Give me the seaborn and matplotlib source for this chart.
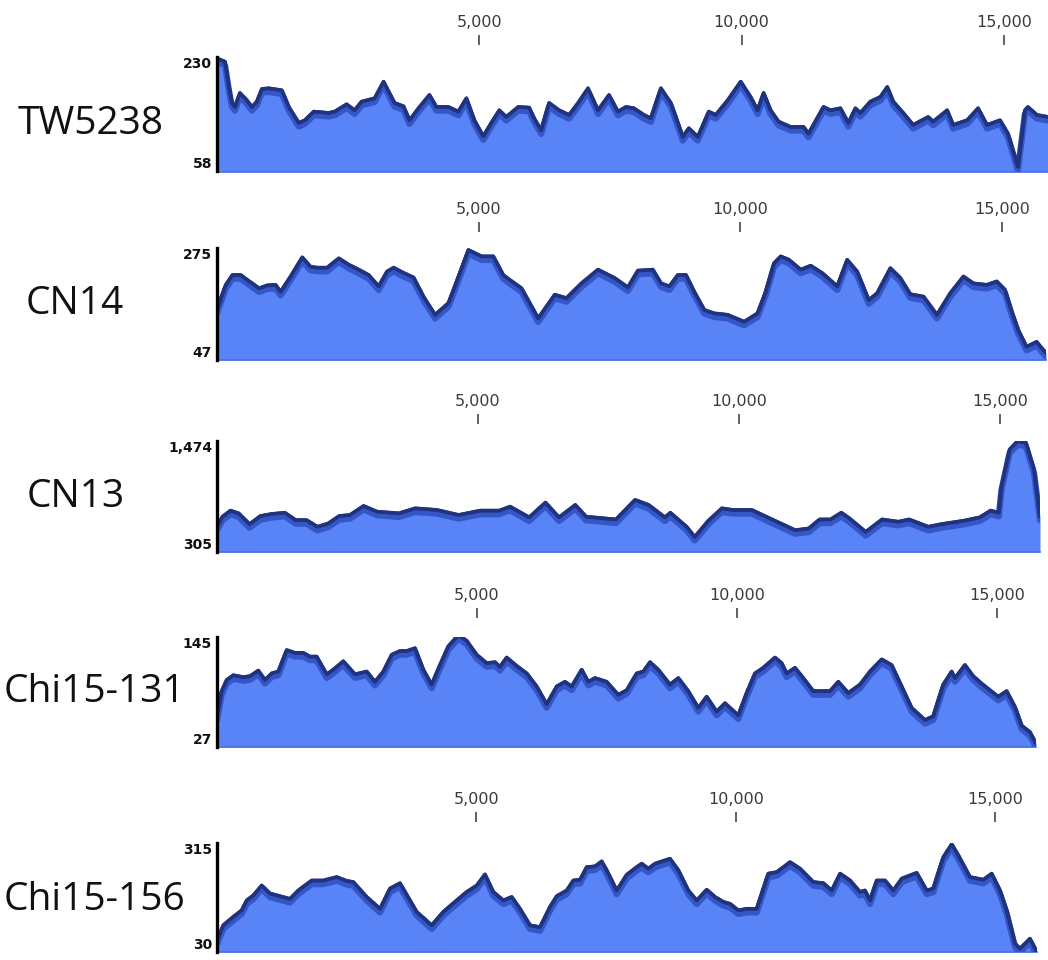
import numpy as np
import pandas as pd
import matplotlib
matplotlib.use("Agg")
import matplotlib.pyplot as plt
import matplotlib.patheffects as pe
import seaborn as sns

# ---------------- data ----------------
sample_names = ["TW5238", "CN14", "CN13", "Chi15-131", "Chi15-156"]
cov_min = [58, 47, 305, 27, 30]
cov_max = [230, 275, 1474, 145, 315]
tick_positions = [5000, 10000, 15000]
tick_labels = ["5,000", "10,000", "15,000"]

pos_tw5238 = [0, 152, 228, 285, 342, 437, 570, 665, 760, 855, 989, 1236, 1369, 1559, 1673, 1844, 2129,
              2243, 2471, 2623, 2756, 3004, 3175, 3384, 3555, 3669, 3840, 4049, 4182, 4410, 4600, 4753,
              4905, 5076, 5228, 5380, 5513, 5741, 5950, 6045, 6178, 6330, 6520, 6711, 6882, 7072, 7262,
              7471, 7642, 7794, 7946, 8136, 8270, 8460, 8650, 8878, 8992, 9163, 9372, 9505, 9733, 9981,
              10171, 10304, 10418, 10551, 10703, 10932, 11179, 11274, 11559, 11692, 11882, 12034, 12167,
              12262, 12452, 12642, 12775, 12889, 13079, 13269, 13554, 13649, 13916, 14030, 14296, 14505,
              14676, 14924, 15075, 15265, 15398, 15455, 15626, 15838]
cov_tw5238 = [228, 223, 185, 161, 155, 176, 165, 155, 163, 182, 183, 180, 155, 131, 135, 148, 146,
              148, 159, 150, 163, 168, 193, 161, 156, 135, 153, 173, 155, 155, 148, 168,
              135, 111, 131, 150, 140, 155, 154, 138, 120, 161, 150, 143, 161, 183, 150,
              173, 148, 155, 153, 143, 138, 183, 161, 110, 123, 110, 148, 143, 165, 193,
              170, 150, 176, 150, 133, 125, 125, 115, 155, 150, 153, 131, 153,
              146, 163, 170, 185, 163, 146, 128, 140, 133, 150, 128, 135, 153,
              128, 135, 115, 65, 150, 155, 143, 140]

pos_cn14 = [0, 168, 295, 453, 581, 804, 962, 1120, 1215, 1406, 1629, 1787, 1915, 2105, 2328, 2518, 2709,
            2899, 3090, 3248, 3376, 3534, 3757, 3947, 4168, 4423, 4581, 4804, 5058, 5281, 5471, 5597,
            5820, 6138, 6454, 6677, 6963, 7281, 7597, 7852, 8043, 8329, 8487, 8645, 8805, 8963, 9121,
            9312, 9502, 9757, 10074, 10329, 10487, 10645, 10773, 10931, 11154, 11345, 11567, 11853,
            12043, 12234, 12455, 12615, 12868, 13059, 13249, 13503, 13758, 14012, 14265, 14455, 14710,
            14901, 15059, 15187, 15312, 15472, 15663, 15842]
cov_cn14 = [150, 200, 220, 220, 210, 193, 199, 200, 186, 217, 256, 237, 235, 235, 254, 241, 231,
            220, 197, 227, 235, 226, 215, 176, 139, 163, 207, 271, 258, 258, 220, 210,
            193, 132, 180, 173, 203, 231, 214, 195, 229, 231, 203, 197, 220, 220, 186,
            149, 142, 139, 125, 142, 186, 244, 258, 251, 231, 239, 224, 197,
            251, 227, 169, 183, 234, 214, 181, 176, 139, 183, 217, 203, 200,
            207, 190, 146, 108, 74, 84, 61]

pos_cn13 = [0, 104, 260, 416, 624, 832, 1040, 1300, 1508, 1716, 1924, 2132, 2340, 2548, 2808, 3068,
            3484, 3796, 4212, 4628, 5044, 5408, 5616, 5980, 6292, 6552, 6864, 7072, 7644, 8008, 8268,
            8580, 8684, 8996, 9152, 9412, 9672, 9880, 10244, 10660, 11076, 11336, 11544, 11752, 11960,
            12116, 12428, 12740, 13052, 13260, 13624, 13884, 14300, 14612, 14820, 14976, 15028, 15184,
            15340, 15496, 15652, 15766]
cov_cn13 = [571, 677, 741, 712, 599, 684, 705, 719, 641, 641, 571, 606, 684, 695, 790, 730,
            712, 765, 748, 695, 741, 741, 783, 670, 826, 670, 801, 677, 648, 854, 801,
            670, 719, 571, 464, 634, 765, 748, 748, 641, 535, 553, 648, 648, 719,
            659, 517, 648, 624, 648, 571, 599, 634, 670, 741, 719, 996, 1385,
            1474, 1456, 1173, 677]

pos_chi131 = [0, 90, 187, 313, 506, 635, 794, 923, 1052, 1179, 1340, 1500, 1660, 1788, 1917, 2110,
              2236, 2429, 2654, 2879, 3038, 3198, 3360, 3519, 3648, 3808, 3967, 4129, 4288, 4448, 4640,
              4802, 4994, 5186, 5346, 5442, 5571, 5763, 5956, 6148, 6340, 6533, 6692, 6821, 7013, 7140,
              7269, 7494, 7717, 7879, 8071, 8198, 8327, 8486, 8711, 8871, 9063, 9256, 9417, 9609, 9769,
              10025, 10186, 10346, 10505, 10730, 10859, 10955, 11115, 11275, 11467, 11788, 11948, 12140,
              12365, 12557, 12782, 12974, 13167, 13359, 13615, 13775, 13967, 14128, 14192, 14384, 14544,
              14705, 15024, 15186, 15346, 15474, 15634, 15750]
cov_chi131 = [60, 87, 99, 104, 102, 103, 109, 99, 106, 108, 131, 128, 128, 124, 124, 105,
              110, 119, 105, 108, 97, 108, 126, 130, 130, 133, 110, 94, 115, 135, 147,
              141, 126, 117, 118, 113, 123, 114, 106, 92, 73, 92, 97, 92, 110, 97,
              101, 97, 83, 88, 106, 108, 118, 110, 94, 101, 87, 69, 81, 65, 74,
              61, 85, 106, 112, 123, 117, 106, 112, 101, 87, 87, 97, 85,
              94, 108, 121, 115, 92, 69, 56, 60, 94, 108, 101, 115, 103,
              95, 81, 87, 70, 50, 43, 31]

pos_chi156 = [0, 121, 314, 476, 573, 700, 862, 1022, 1215, 1407, 1567, 1826, 2049, 2308, 2501, 2628,
              2886, 3143, 3335, 3528, 3850, 4139, 4363, 4621, 4814, 5007, 5167, 5327, 5520, 5682, 5842,
              6035, 6227, 6420, 6549, 6742, 6870, 6999, 7128, 7288, 7417, 7513, 7706, 7899, 8092, 8188,
              8316, 8445, 8734, 8894, 9087, 9249, 9442, 9601, 9762, 9891, 10051, 10213, 10406, 10629,
              10791, 11048, 11241, 11497, 11690, 11852, 12013, 12206, 12397, 12493, 12590, 12719, 12879,
              13039, 13201, 13490, 13683, 13810, 14003, 14165, 14292, 14518, 14774, 14936, 15096, 15225,
              15386, 15482, 15674, 15809]
cov_chi156 = [60, 100, 122, 139, 165, 178, 204, 183, 176, 169, 191, 217, 217, 226, 216, 213,
              174, 143, 196, 210, 135, 100, 135, 165, 187, 204, 233, 187, 165, 174, 143,
              100, 95, 148, 176, 191, 217, 219, 252, 254, 267, 244, 191, 232, 252, 261,
              248, 261, 274, 244, 191, 165, 193, 174, 161, 156, 139, 143, 143, 235,
              239, 265, 248, 213, 210, 191, 235, 217, 187, 191, 165, 217, 217,
              191, 222, 237, 191, 196, 278, 312, 283, 226, 219, 235, 191, 139,
              52, 39, 65, 30]

positions = [pos_tw5238, pos_cn14, pos_cn13, pos_chi131, pos_chi156]
coverages = [cov_tw5238, cov_cn14, cov_cn13, cov_chi131, cov_chi156]

frames = []
for name, p, c in zip(sample_names, positions, coverages):
    frames.append(pd.DataFrame({"sample": name, "position": p, "coverage": c}))
df = pd.concat(frames, ignore_index=True)

# ---------------- style / layout ----------------
sns.set_style("white")
plt.rcParams["font.family"] = ["DejaVu Sans"]

W, H = 1048, 960
fig = plt.figure(figsize=(W / 100, H / 100), dpi=100)

panel_top = [57, 248, 441, 637, 843]
panel_bottom = [171.5, 360, 552, 747, 952]
panel_right = [1048, 1046, 1040, 1036, 1037]
panel_xmax = [15838, 15842, 15766, 15750, 15809]
tick_offset_px = [12, 16, 17, 19, 21]
name_x = [91, 75, 76, 94, 94]
name_base = [134, 314, 507, 702, 910]
LEFT = 217

c_fill = "#5884f7"
c_mid = "#3556c6"
c_dark = "#1f3380"

for i, name in enumerate(sample_names):
    sub = df[df["sample"] == name]
    top, bot, right = panel_top[i], panel_bottom[i], panel_right[i]
    ax = fig.add_axes([LEFT / W, 1 - bot / H, (right - LEFT) / W, (bot - top) / H])
    ymin, ymax = cov_min[i], cov_max[i]

    ax.fill_between(sub["position"], ymin, sub["coverage"], color=c_fill, lw=0, zorder=1)
    sns.lineplot(data=sub, x="position", y="coverage", ax=ax, color=c_dark, lw=2.5,
                 zorder=3, legend=False,
                 path_effects=[pe.Stroke(linewidth=4.5, foreground=c_mid, offset=(0, -2.6)),
                               pe.Stroke(linewidth=2.6, foreground=c_dark), pe.Normal()])

    ax.set_xlim(0, panel_xmax[i])
    ax.set_ylim(ymin, ymax)
    ax.set_xlabel("")
    ax.set_ylabel("")

    ax.spines["right"].set_visible(False)
    ax.spines["top"].set_position(("outward", tick_offset_px[i] * 0.72))
    ax.spines["top"].set_visible(False)
    ax.spines["left"].set_color("black")
    ax.spines["left"].set_linewidth(2.4)
    ax.spines["left"].set_zorder(5)
    ax.spines["bottom"].set_color("#4a70dc")
    ax.spines["bottom"].set_linewidth(1.2)

    ax.xaxis.set_ticks_position("top")
    ax.xaxis.set_label_position("top")
    ax.set_xticks(tick_positions)
    ax.set_xticklabels(tick_labels)
    ax.tick_params(axis="x", which="both", direction="out", length=7, width=1.3,
                   color="#555555", labelsize=11.5, labelcolor="#3a3a3a", pad=3.5)

    ax.set_yticks([ymin, ymax])
    ax.set_yticklabels([f"{ymin:,}", f"{ymax:,}"])
    ax.tick_params(axis="y", which="both", length=0, pad=3.5, labelsize=10)
    ylabs = ax.get_yticklabels()
    for lab in ylabs:
        lab.set_fontweight("bold")
        lab.set_color("#111111")
    ylabs[0].set_verticalalignment("bottom")
    ylabs[1].set_verticalalignment("top")
    ax.grid(False)
    ax.set_facecolor("none")

    fig.text(name_x[i] / W, 1 - name_base[i] / H, name, ha="center", va="baseline",
             fontsize=28, family=["Open Sans", "DejaVu Sans"], color="#111111")

fig.savefig("out.png", dpi=100, facecolor="white")
